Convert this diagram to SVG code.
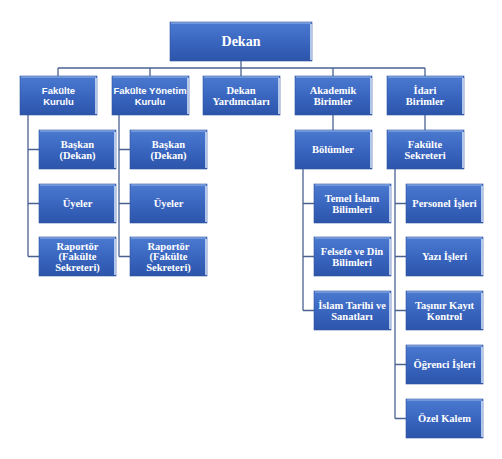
<svg xmlns="http://www.w3.org/2000/svg" width="502" height="459" viewBox="0 0 502 459">
<defs>
<linearGradient id="g" x1="0" y1="0" x2="0" y2="1">
<stop offset="0" stop-color="#4b7ad0"/>
<stop offset="0.5" stop-color="#3a66c0"/>
<stop offset="1" stop-color="#2c55aa"/>
</linearGradient>
<style>
.b{fill:url(#g);stroke:#2f54a0;stroke-width:0.6}
.hl{stroke:#9ab6e8;stroke-width:1.2}
.rl{stroke:#d2e0f6;stroke-width:1.6}
.t{font-family:"Liberation Serif","Times New Roman",serif;font-weight:bold;font-size:10.5px;fill:#ffffff;text-anchor:middle}
.s{font-family:"Liberation Sans",Arial,sans-serif;font-weight:bold;font-size:9.5px;fill:#ffffff;text-anchor:middle}
.big{font-size:14px}
.c{fill:none;stroke:#4a6290;stroke-width:1.3}
</style>
<g id="box">
<rect class="b" x="0" y="0" width="77" height="39"/>
<line class="hl" x1="1" y1="1" x2="76" y2="1"/>
<line class="rl" x1="76" y1="2" x2="76" y2="38"/>
</g>
</defs>
<rect width="502" height="459" fill="#ffffff"/>
<g id="connectors">
<path class="c" d="M241,61V68M58,68H425M58,68V76M150,68V76M241,68V76M333,68V76M425,68V76"/>
<path class="c" d="M28,115V256.5M28,149.5H39M28,203.5H39M28,256.5H39"/>
<path class="c" d="M119,115V256.5M119,149.5H130M119,203.5H130M119,256.5H130"/>
<path class="c" d="M333,115V130M425,115V130"/>
<path class="c" d="M303,169V310.5M303,203.5H314M303,256.5H314M303,310.5H314"/>
<path class="c" d="M395,169V418.5M395,203.5H406M395,256.5H406M395,310.5H406M395,364.5H406M395,418.5H406"/>
</g>
<g id="dekan">
<rect class="b" x="170" y="22" width="142" height="39"/>
<line class="hl" x1="171" y1="23" x2="311" y2="23"/>
<line class="rl" x1="311" y1="24" x2="311" y2="60"/>
<text class="t big" x="241" y="46">Dekan</text>
</g>
<g id="fakulte-kurulu">
<use href="#box" x="20" y="76"/>
<text class="s" x="58.5" y="93.5">Fakülte</text>
<text class="s" x="58.5" y="104.5">Kurulu</text>
</g>
<g id="fakulte-yonetim-kurulu">
<use href="#box" x="112" y="76"/>
<text class="s" x="150" y="93.5">Fakülte Yönetim</text>
<text class="s" x="150" y="104.5">Kurulu</text>
</g>
<g id="dekan-yardimcilari">
<use href="#box" x="203" y="76"/>
<text class="t" x="241" y="93.5">Dekan</text>
<text class="t" x="241" y="104.5">Yardımcıları</text>
</g>
<g id="akademik-birimler">
<use href="#box" x="295" y="76"/>
<text class="t" x="333" y="93.5">Akademik</text>
<text class="t" x="333" y="104.5">Birimler</text>
</g>
<g id="idari-birimler">
<use href="#box" x="387" y="76"/>
<text class="t" x="425" y="93.5">İdari</text>
<text class="t" x="425" y="104.5">Birimler</text>
</g>
<g id="fk-baskan">
<use href="#box" x="39" y="130"/>
<text class="t" x="77.5" y="147.5">Başkan</text>
<text class="t" x="77.5" y="158.5">(Dekan)</text>
</g>
<g id="fk-uyeler">
<use href="#box" x="39" y="184"/>
<text class="t" x="77.5" y="207">Üyeler</text>
</g>
<g id="fk-raportor">
<use href="#box" x="39" y="237"/>
<text class="t" x="77.5" y="249.5">Raportör</text>
<text class="t" x="77.5" y="260">(Fakülte</text>
<text class="t" x="77.5" y="270.5">Sekreteri)</text>
</g>
<g id="fyk-baskan">
<use href="#box" x="130" y="130"/>
<text class="t" x="168.5" y="147.5">Başkan</text>
<text class="t" x="168.5" y="158.5">(Dekan)</text>
</g>
<g id="fyk-uyeler">
<use href="#box" x="130" y="184"/>
<text class="t" x="168.5" y="207">Üyeler</text>
</g>
<g id="fyk-raportor">
<use href="#box" x="130" y="237"/>
<text class="t" x="168.5" y="249.5">Raportör</text>
<text class="t" x="168.5" y="260">(Fakülte</text>
<text class="t" x="168.5" y="270.5">Sekreteri)</text>
</g>
<g id="bolumler">
<use href="#box" x="295" y="130"/>
<text class="t" x="333" y="153">Bölümler</text>
</g>
<g id="fakulte-sekreteri">
<use href="#box" x="387" y="130"/>
<text class="t" x="425" y="147.5">Fakülte</text>
<text class="t" x="425" y="158.5">Sekreteri</text>
</g>
<g id="temel-islam">
<use href="#box" x="314" y="184"/>
<text class="t" x="352" y="201.5">Temel İslam</text>
<text class="t" x="352" y="212.5">Bilimleri</text>
</g>
<g id="felsefe-din">
<use href="#box" x="314" y="237"/>
<text class="t" x="352" y="254.5">Felsefe ve Din</text>
<text class="t" x="352" y="265.5">Bilimleri</text>
</g>
<g id="islam-tarihi">
<use href="#box" x="314" y="291"/>
<text class="t" x="352" y="308.5">İslam Tarihi ve</text>
<text class="t" x="352" y="319.5">Sanatları</text>
</g>
<g id="personel">
<use href="#box" x="406" y="184"/>
<text class="t" x="444.5" y="207">Personel İşleri</text>
</g>
<g id="yazi">
<use href="#box" x="406" y="237"/>
<text class="t" x="444.5" y="260">Yazı İşleri</text>
</g>
<g id="tasinir">
<use href="#box" x="406" y="291"/>
<text class="t" x="444.5" y="308.5">Taşınır Kayıt</text>
<text class="t" x="444.5" y="319.5">Kontrol</text>
</g>
<g id="ogrenci">
<use href="#box" x="406" y="345"/>
<text class="t" x="444.5" y="368">Öğrenci İşleri</text>
</g>
<g id="ozel-kalem">
<use href="#box" x="406" y="399"/>
<text class="t" x="444.5" y="422">Özel Kalem</text>
</g>
</svg>
